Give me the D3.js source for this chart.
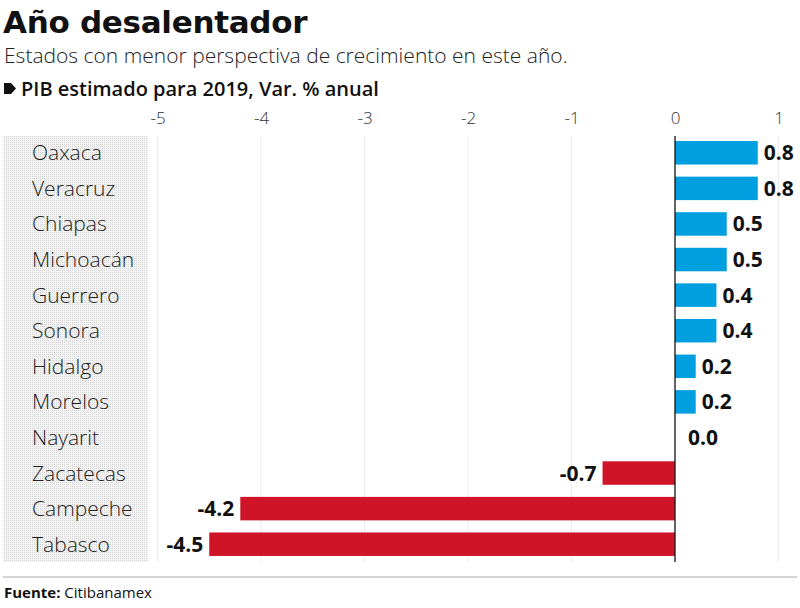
<!DOCTYPE html>
<html>
<head>
<meta charset="utf-8">
<script src="https://cdn.jsdelivr.net/npm/d3@7"></script>
<style>
  body { margin: 0; background: #fff; }
  svg { display: block; font-family: "Open Sans", Lato, sans-serif; }
</style>
</head>
<body>
<svg id="chart" width="800" height="608"></svg>
<script>
// data
const states = ['Oaxaca', 'Veracruz', 'Chiapas', 'Michoacán', 'Guerrero', 'Sonora', 'Hidalgo', 'Morelos', 'Nayarit', 'Zacatecas', 'Campeche', 'Tabasco'];
const pib = [0.8, 0.8, 0.5, 0.5, 0.4, 0.4, 0.2, 0.2, 0.0, -0.7, -4.2, -4.5];
const tickValues = [-5, -4, -3, -2, -1, 0, 1];

const svg = d3.select('#chart');

// dotted background for labels
const defs = svg.append('defs');
const pat = defs.append('pattern').attr('id', 'dots')
    .attr('width', 2).attr('height', 2).attr('patternUnits', 'userSpaceOnUse');
pat.append('rect').attr('width', 2).attr('height', 2).attr('fill', '#f4f4f4');
pat.append('rect').attr('width', 1).attr('height', 1).attr('fill', '#d6d6d6');

const x = d3.scaleLinear().domain([-5, 1]).range([157.5, 778.5]);
const y = d3.scaleBand().domain(states).range([135, 562]).paddingInner(0.34).paddingOuter(0.17);

// titles
svg.append('text').attr('x', 3).attr('y', 33)
    .attr('font-family', '"DejaVu Sans", sans-serif')
    .attr('font-size', 31).attr('font-weight', 700).attr('fill', '#111')
    .attr('letter-spacing', -0.3)
    .text('Año desalentador');
svg.append('text').attr('x', 4).attr('y', 63)
    .attr('font-size', 21).attr('font-weight', 300).attr('fill', '#222')
    .text('Estados con menor perspectiva de crecimiento en este año.');
svg.append('path').attr('d', 'M4,83 h7 l5,5.5 l-5,5.5 h-7 z').attr('fill', '#111');
svg.append('text').attr('x', 21).attr('y', 96)
    .attr('font-size', 20).attr('font-weight', 600).attr('fill', '#111')
    .text('PIB estimado para 2019, Var. % anual');

// label panel
svg.append('rect').attr('x', 3).attr('y', 136).attr('width', 145).attr('height', 426)
    .attr('fill', 'url(#dots)');

// grid + axis
const grid = svg.append('g');
grid.selectAll('line').data(tickValues.filter(d => d !== 0)).join('line')
    .attr('x1', d => x(d)).attr('x2', d => x(d))
    .attr('y1', 136).attr('y2', 562)
    .attr('stroke', '#ececec').attr('stroke-width', 1);

const axis = svg.append('g').attr('transform', 'translate(0,124)')
    .call(d3.axisTop(x).tickValues(tickValues).tickSize(0).tickPadding(0).tickFormat(d => String(d)));
axis.select('.domain').remove();
axis.selectAll('text')
    .attr('font-family', '"Open Sans", sans-serif').attr('font-size', 17).attr('font-weight', 300)
    .attr('fill', '#333').attr('dy', 0);

// bars
svg.append('g').selectAll('rect').data(states).join('rect')
    .attr('x', (d, i) => x(Math.min(0, pib[i])))
    .attr('y', d => y(d))
    .attr('width', (d, i) => Math.abs(x(pib[i]) - x(0)))
    .attr('height', y.bandwidth())
    .attr('fill', (d, i) => pib[i] < 0 ? '#d01428' : '#009fe0');

// zero line
svg.append('line').attr('x1', x(0)).attr('x2', x(0)).attr('y1', 136).attr('y2', 562)
    .attr('stroke', '#111').attr('stroke-width', 1.3);

// state labels
svg.append('g').selectAll('text').data(states).join('text')
    .attr('x', 32).attr('y', d => y(d) + y.bandwidth() / 2 + 7.5)
    .attr('font-size', 21).attr('font-weight', 300).attr('fill', '#222')
    .text(d => d);

// value labels
svg.append('g').selectAll('text').data(states).join('text')
    .attr('x', (d, i) => pib[i] < 0 ? x(pib[i]) - 6 : (pib[i] === 0 ? x(0) + 13 : x(pib[i]) + 6))
    .attr('y', d => y(d) + y.bandwidth() / 2 + 7.5)
    .attr('text-anchor', (d, i) => pib[i] < 0 ? 'end' : 'start')
    .attr('font-size', 21).attr('font-weight', 700).attr('fill', '#111')
    .text((d, i) => pib[i].toFixed(1));

// footer
svg.append('line').attr('x1', 3).attr('x2', 797).attr('y1', 577).attr('y2', 577)
    .attr('stroke', '#aaa').attr('stroke-width', 1);
const src = svg.append('text').attr('x', 4).attr('y', 598).attr('font-size', 15).attr('fill', '#111');
src.append('tspan').attr('font-weight', 700).text('Fuente:');
src.append('tspan').attr('font-weight', 400).text(' Citibanamex');
</script>
</body>
</html>
